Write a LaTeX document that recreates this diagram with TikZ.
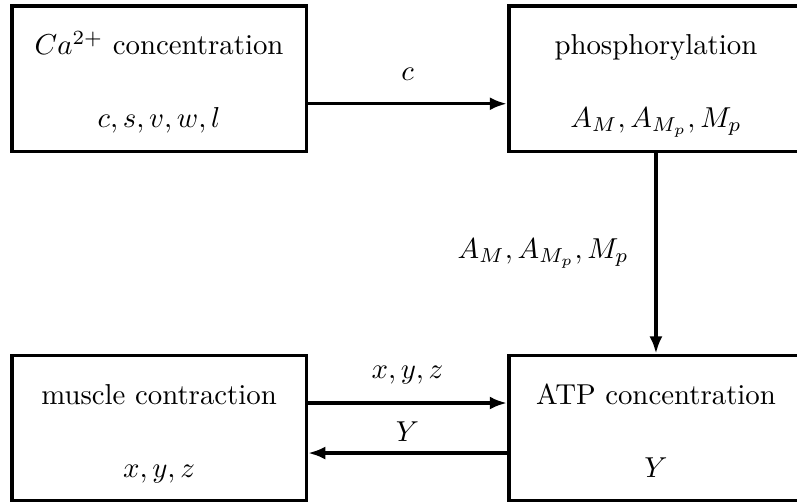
\documentclass[tikz,border=0pt]{standalone}
\usepackage{amsmath}
\usepackage{tikz}
\usetikzlibrary{arrows.meta, positioning}
\tikzset{
  block/.style={rectangle, draw=black, minimum width=3.59cm, minimum height=1.77cm,
    align=center, line width=1.2pt},
  arrow/.style={-{Latex[length=6pt, width=4.5pt]}, line width=1.2pt}
}
\newcommand{\hstrut}{\rule{0pt}{12pt}}
\newcommand{\dstrut}{\rule[-3.3pt]{0pt}{3.3pt}}

\begin{document}
\begin{tikzpicture}
\useasboundingbox (0,0) rectangle (9.72,-6.14);
% Blocks
\node[block] (ca) at (1.94,-0.96) {\hstrut$Ca^{2+}$ concentration\\[13.3pt]$c, s, v, w, l$\dstrut};
\node[block] (phos) at (8.00,-0.96) {\hstrut phosphorylation\\[13.3pt]$A_M, A_{M_p}, M_p$\dstrut};
\node[block] (musc) at (1.94,-5.22) {\hstrut muscle contraction\\[13.3pt]$x, y, z$\dstrut};
\node[block] (atp) at (8.00,-5.22) {\hstrut ATP concentration\\[13.3pt]$Y$\dstrut};

% Connections
\draw[arrow] ([yshift=-0.305cm]ca.east) -- node[above=4pt] {$c$} ([yshift=-0.305cm]phos.west);
\draw[arrow] (phos) -- node[left=5.5pt] {$A_M, A_{M_p}, M_p$} (atp);
\draw[arrow] ([yshift=0.305cm]musc.east) -- node[above=2.5pt] {$x, y, z$} ([yshift=0.305cm]atp.west);
\draw[arrow] ([yshift=-0.305cm]atp.west) -- node[above] {$Y$} ([yshift=-0.305cm]musc.east);
\end{tikzpicture}
\end{document}
